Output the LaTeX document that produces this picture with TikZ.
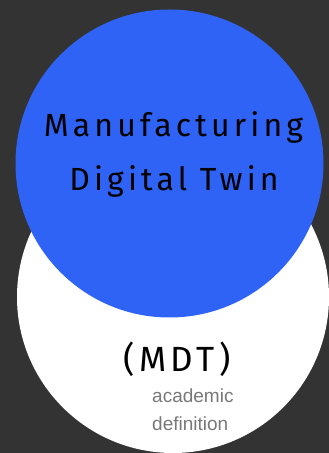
\documentclass[tikz,border=0pt]{standalone}
\usepackage{fontspec}
\setmainfont{Fira Sans}
\newfontfamily\titlefont[LetterSpace=13]{Fira Sans}
\newfontfamily\subfont{Liberation Sans}
\definecolor{bgdark}{RGB}{51,51,51}
\definecolor{mdtblue}{RGB}{47,99,246}
\definecolor{subgrey}{RGB}{120,120,120}
\tikzset{
  titletext/.style={font=\titlefont\fontsize{32}{38}\selectfont, text=black, inner sep=0pt, anchor=base},
  subtext/.style={font=\subfont\fontsize{19}{23}\selectfont, text=subgrey, inner sep=0pt, anchor=base west}
}
\begin{document}
\begin{tikzpicture}[x=1pt,y=1pt]
\useasboundingbox (0,0) rectangle (329,453);
\fill[bgdark] (0,0) rectangle (329,453);
\fill[white] (173,156) circle[radius=156];
\fill[mdtblue] (169.5,289.5) circle[radius=154];
\node[titletext] (manu) at (173.5,316) {Manufacturing};
\node[titletext] (dt) at (174,262) {Digital Twin};
\node[titletext, font=\titlefont\fontsize{35}{40}\selectfont] (mdt) at (177,81) {(MDT)};
\node[subtext] (acad) at (152,50) {academic};
\node[subtext] (defn) at (152,23) {definition};
\end{tikzpicture}
\end{document}
